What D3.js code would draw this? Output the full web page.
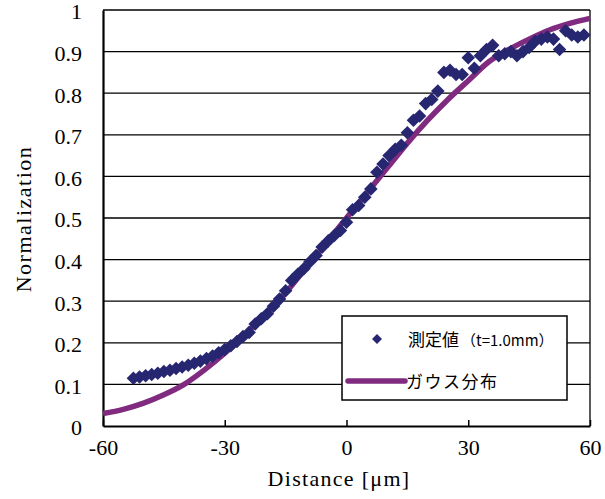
<!DOCTYPE html>
<html>
<head>
<meta charset="utf-8">
<script src="https://cdn.jsdelivr.net/npm/d3@7"></script>
<style>
  body { margin: 0; background: #fff; }
  svg { display: block; }
</style>
</head>
<body>
<div id="chart"></div>
<script>
// measured points (t=1.0mm)
var measX = [-52.5, -51, -49.5, -48, -46.5, -45, -43.5, -42, -40.5, -39, -37.5, -36, -34.5, -33, -31.5,
  -30, -28.5, -27, -25.5, -24, -22.5, -21, -19.5, -18, -16.5, -15, -13.5, -12, -10.5, -9, -7.5, -6,
  -4.5, -3, -1.5, 0, 1.5, 3, 4.5, 6, 7.5, 9, 10.5, 12, 13.5, 15, 16.5, 18, 19.5, 21, 22.5, 24, 25.5,
  27, 28.5, 30, 31.5, 33, 34.5, 36, 37.5, 39, 40.5, 42, 43.5, 45, 46.5, 48, 49.5, 51, 52.5, 54, 55.5,
  57, 58.5];
var measY = [0.115, 0.118, 0.121, 0.124, 0.127, 0.131, 0.134, 0.138, 0.142, 0.146, 0.151, 0.156, 0.162, 0.168, 0.176,
  0.184, 0.193, 0.203, 0.215, 0.225, 0.245, 0.258, 0.27, 0.288, 0.305, 0.325, 0.35, 0.365, 0.378, 0.395, 0.41, 0.43,
  0.445, 0.458, 0.47, 0.49, 0.52, 0.53, 0.55, 0.57, 0.61, 0.63, 0.65, 0.665, 0.675, 0.705, 0.735, 0.745, 0.775, 0.785, 0.805, 0.85, 0.855,
  0.845, 0.845, 0.885, 0.86, 0.89, 0.905, 0.915, 0.89, 0.895, 0.9, 0.89, 0.9, 0.91, 0.925, 0.93, 0.935, 0.93, 0.905, 0.95, 0.94,
  0.935, 0.94];

// gaussian fit curve
var gaussX = [-60, -55, -50, -45, -40, -35, -30, -25, -20, -15, -10, -5, 0, 5, 10, 15, 20, 25, 30, 35, 40, 45, 50, 55, 60];
var gaussY = [0.03, 0.04, 0.055, 0.075, 0.1, 0.135, 0.175, 0.22, 0.27, 0.32, 0.38, 0.44, 0.5, 0.56, 0.62, 0.68, 0.735, 0.785, 0.83, 0.875, 0.905, 0.93, 0.952, 0.968, 0.98];

var xTicks = [-60, -30, 0, 30, 60];
var yTicks = [0, 0.1, 0.2, 0.3, 0.4, 0.5, 0.6, 0.7, 0.8, 0.9, 1];

var legendLabels = ["測定値", "（t=1.0mm）", "ガウス分布"];

var svg_dx = 605, svg_dy = 499;
var plot = { left: 103, right: 590, top: 10, bottom: 426 };
var navy = "#262671", purple = "#802a80";
var serif = "'Liberation Serif', 'Times New Roman', serif";
var jp = "'Noto Sans CJK JP', sans-serif";

var svg = d3.select("#chart")
  .append("svg")
  .attr("width", svg_dx)
  .attr("height", svg_dy);

var xScale = d3.scaleLinear().domain([-60, 60]).range([plot.left, plot.right]);
var yScale = d3.scaleLinear().domain([0, 1]).range([plot.bottom, plot.top]);

// gridlines
svg.append("g")
  .selectAll("line")
  .data(yTicks.filter(d => d > 0))
  .enter()
  .append("line")
  .attr("x1", plot.left)
  .attr("x2", plot.right)
  .attr("y1", d => yScale(d))
  .attr("y2", d => yScale(d))
  .attr("stroke", "#000")
  .attr("stroke-width", 1.3);

// right border
svg.append("line")
  .attr("x1", plot.right).attr("x2", plot.right)
  .attr("y1", plot.top).attr("y2", plot.bottom)
  .attr("stroke", "#000").attr("stroke-width", 1.3);

// axes (plain hyphen for negatives, like the original)
var axis_x = d3.axisBottom(xScale).tickValues(xTicks).tickSize(-6).tickSizeOuter(0)
  .tickFormat(d => String(d));
var axis_y = d3.axisLeft(yScale).tickValues(yTicks).tickSize(0).tickSizeOuter(0)
  .tickFormat(d => d === 0 || d === 1 ? String(d) : d3.format(".1f")(d));

var gx = svg.append("g")
  .attr("transform", "translate(0," + plot.bottom + ")")
  .call(axis_x);
gx.select(".domain").attr("stroke-width", 2.2);
gx.selectAll(".tick line").attr("stroke-width", 1.5);
gx.selectAll(".tick text")
  .attr("y", 29)
  .attr("dy", 0)
  .attr("font-family", serif)
  .attr("font-size", 22)
  .attr("fill", "#000");

var gy = svg.append("g")
  .attr("transform", "translate(" + plot.left + ",0)")
  .call(axis_y);
gy.select(".domain").attr("stroke-width", 2.2);
gy.selectAll(".tick text")
  .attr("x", -21)
  .attr("dy", "0.4em")
  .attr("font-family", serif)
  .attr("font-size", 22)
  .attr("fill", "#000");

// axis titles
svg.append("text")
  .attr("x", 339)
  .attr("y", 486)
  .attr("text-anchor", "middle")
  .attr("font-family", serif)
  .attr("font-size", 22)
  .attr("letter-spacing", 1.3)
  .text("Distance [μm]");

svg.append("text")
  .attr("transform", "translate(31," + 219 + ") rotate(-90)")
  .attr("text-anchor", "middle")
  .attr("font-family", serif)
  .attr("font-size", 22)
  .attr("letter-spacing", 1.5)
  .text("Normalization");

// gaussian curve
var line = d3.line()
  .x((d, i) => xScale(gaussX[i]))
  .y(d => yScale(d))
  .curve(d3.curveMonotoneX);

svg.append("path")
  .datum(gaussY)
  .attr("d", line)
  .attr("fill", "none")
  .attr("stroke", purple)
  .attr("stroke-width", 5.5);

// measured diamonds
var diamond = d3.symbol().type(d3.symbolSquare).size(92);

svg.append("g")
  .selectAll("path")
  .data(measY)
  .enter()
  .append("path")
  .attr("d", diamond)
  .attr("transform", (d, i) => "translate(" + xScale(measX[i]) + "," + yScale(d) + ") rotate(45)")
  .attr("fill", navy);

// legend
var lg = svg.append("g");
lg.append("rect")
  .attr("x", 342).attr("y", 316)
  .attr("width", 225).attr("height", 84)
  .attr("fill", "#fff")
  .attr("stroke", "#000")
  .attr("stroke-width", 1.5);

lg.append("path")
  .attr("d", d3.symbol().type(d3.symbolSquare).size(50))
  .attr("transform", "translate(377,339) rotate(45)")
  .attr("fill", navy);

var t1 = lg.append("text")
  .attr("x", 408).attr("y", 346)
  .attr("font-family", jp)
  .attr("fill", "#000");
t1.append("tspan").attr("font-size", 17).text(legendLabels[0]);
t1.append("tspan").attr("font-size", 15).attr("dx", 2).text(legendLabels[1]);

lg.append("line")
  .attr("x1", 348).attr("x2", 405)
  .attr("y1", 381).attr("y2", 381)
  .attr("stroke", purple)
  .attr("stroke-width", 5.5)
  .attr("stroke-linecap", "round");

lg.append("text")
  .attr("x", 406).attr("y", 388)
  .attr("font-family", jp)
  .attr("font-size", 17)
  .attr("letter-spacing", 1.5)
  .attr("fill", "#000")
  .text(legendLabels[2]);
</script>
</body>
</html>
